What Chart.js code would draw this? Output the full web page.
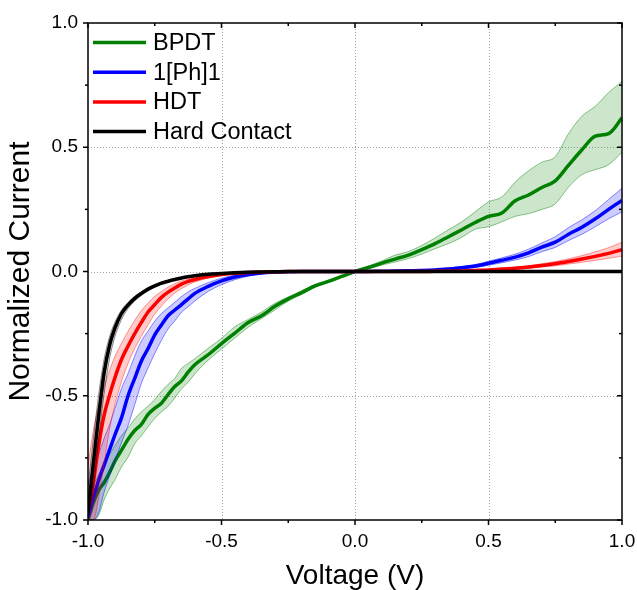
<!DOCTYPE html>
<html>
<head>
<meta charset="utf-8">
<script src="https://cdn.jsdelivr.net/npm/chart.js@4.4.1/dist/chart.umd.min.js"></script>
<style>
  html, body { margin: 0; padding: 0; background: #fff; }
  #wrap { width: 637px; height: 590px; }
</style>
</head>
<body>
<div id="wrap"><canvas id="myChart" width="637" height="590"></canvas></div>
<script>
// tensions (V)
var volts = [-1.00, -0.98, -0.96, -0.94, -0.92, -0.90, -0.875, -0.85, -0.825, -0.80, -0.775, -0.75, -0.725, -0.70, -0.675, -0.65, -0.625, -0.60,
    -0.55, -0.50, -0.45, -0.40, -0.35, -0.30, -0.25, -0.20, -0.15, -0.10, -0.05, 0.00, 0.05, 0.10, 0.15, 0.20, 0.25, 0.30,
    0.35, 0.40, 0.45, 0.50, 0.55, 0.60, 0.65, 0.70, 0.75, 0.80, 0.85, 0.90, 0.95, 1.00];

var seriesNames = ['BPDT', '1[Ph]1', 'HDT', 'Hard Contact'];

// BPDT
var bpdtMean = [-1.00, -0.93, -0.88, -0.85, -0.81, -0.765, -0.72, -0.675, -0.64, -0.615, -0.575, -0.550, -0.530, -0.495, -0.463, -0.440, -0.405, -0.375,
    -0.335, -0.290, -0.248, -0.205, -0.178, -0.140, -0.110, -0.085, -0.058, -0.040, -0.020, 0.000, 0.016, 0.034, 0.050, 0.066, 0.088, 0.112,
    0.140, 0.168, 0.197, 0.222, 0.235, 0.285, 0.308, 0.338, 0.365, 0.428, 0.490, 0.545, 0.555, 0.618];
var bpdtHigh = [-0.89, -0.857, -0.82, -0.774, -0.738, -0.702, -0.661, -0.630, -0.593, -0.565, -0.542, -0.515, -0.482, -0.454, -0.430, -0.390, -0.370, -0.351,
    -0.309, -0.269, -0.222, -0.193, -0.163, -0.128, -0.102, -0.078, -0.054, -0.036, -0.017, 0.003, 0.022, 0.042, 0.066, 0.080, 0.105, 0.135,
    0.168, 0.200, 0.240, 0.280, 0.300, 0.360, 0.405, 0.440, 0.462, 0.555, 0.625, 0.665, 0.720, 0.765];
var bpdtLow = [-1.00, -1.00, -0.98, -0.92, -0.875, -0.84, -0.787, -0.747, -0.693, -0.661, -0.625, -0.591, -0.565, -0.542, -0.509, -0.472, -0.446, -0.412,
    -0.357, -0.312, -0.268, -0.224, -0.189, -0.155, -0.119, -0.092, -0.064, -0.044, -0.023, -0.003, 0.010, 0.026, 0.038, 0.052, 0.070, 0.092,
    0.112, 0.138, 0.170, 0.180, 0.200, 0.222, 0.233, 0.250, 0.272, 0.340, 0.390, 0.410, 0.430, 0.480];

// 1[Ph]1
var phMean = [-0.99, -0.91, -0.84, -0.78, -0.72, -0.66, -0.59, -0.50, -0.43, -0.36, -0.31, -0.255, -0.215, -0.178, -0.155, -0.133, -0.110, -0.088,
    -0.060, -0.038, -0.022, -0.012, -0.006, -0.003, -0.001, 0, 0, 0, 0, 0, 0, 0.001, 0.002, 0.003, 0.004, 0.006,
    0.010, 0.015, 0.022, 0.033, 0.045, 0.058, 0.075, 0.098, 0.118, 0.150, 0.178, 0.212, 0.250, 0.286];
var phHigh = [-0.855, -0.795, -0.735, -0.672, -0.618, -0.554, -0.472, -0.410, -0.340, -0.280, -0.239, -0.200, -0.169, -0.146, -0.124, -0.101, -0.082, -0.068,
    -0.045, -0.027, -0.015, -0.008, -0.004, -0.002, 0, 0, 0, 0, 0, 0, 0, 0.002, 0.003, 0.005, 0.006, 0.009,
    0.014, 0.020, 0.028, 0.041, 0.055, 0.070, 0.090, 0.115, 0.140, 0.177, 0.208, 0.245, 0.290, 0.335];
var phLow = [-1.00, -1.00, -0.97, -0.89, -0.825, -0.765, -0.69, -0.62, -0.536, -0.450, -0.388, -0.33, -0.277, -0.231, -0.199, -0.164, -0.142, -0.119,
    -0.080, -0.053, -0.033, -0.019, -0.010, -0.005, -0.002, 0, 0, 0, 0, 0, 0, 0, 0.001, 0.001, 0.002, 0.003,
    0.006, 0.010, 0.016, 0.025, 0.035, 0.046, 0.060, 0.080, 0.097, 0.125, 0.150, 0.180, 0.212, 0.240];

// HDT
var hdtMean = [-0.97, -0.85, -0.70, -0.58, -0.50, -0.43, -0.355, -0.30, -0.25, -0.205, -0.163, -0.133, -0.104, -0.083, -0.066, -0.051, -0.040, -0.032,
    -0.020, -0.012, -0.007, -0.004, -0.002, -0.001, 0, 0, 0, 0, 0, 0, 0, 0, 0, 0, 0, 0.001,
    0.001, 0.002, 0.004, 0.006, 0.010, 0.013, 0.018, 0.024, 0.031, 0.040, 0.050, 0.061, 0.073, 0.088];
var hdtHigh = [-0.78, -0.64, -0.54, -0.465, -0.40, -0.344, -0.29, -0.241, -0.197, -0.157, -0.127, -0.100, -0.080, -0.063, -0.049, -0.038, -0.031, -0.025,
    -0.015, -0.009, -0.005, -0.003, -0.001, 0, 0, 0, 0, 0, 0, 0, 0, 0, 0, 0, 0, 0.001,
    0.002, 0.003, 0.005, 0.008, 0.013, 0.017, 0.023, 0.031, 0.040, 0.051, 0.064, 0.079, 0.096, 0.118];
var hdtLow = [-1.00, -1.00, -0.91, -0.775, -0.64, -0.54, -0.445, -0.37, -0.31, -0.26, -0.214, -0.171, -0.139, -0.110, -0.087, -0.069, -0.054, -0.042,
    -0.027, -0.017, -0.010, -0.006, -0.003, -0.002, 0, 0, 0, 0, 0, 0, 0, 0, 0, 0, 0, 0,
    0.001, 0.001, 0.003, 0.004, 0.007, 0.009, 0.013, 0.018, 0.023, 0.030, 0.037, 0.045, 0.053, 0.062];

// Hard Contact
var hardMean = [-0.97, -0.77, -0.58, -0.41, -0.30, -0.23, -0.17, -0.135, -0.108, -0.088, -0.071, -0.058, -0.047, -0.039, -0.032, -0.026, -0.021, -0.017,
    -0.011, -0.008, -0.005, -0.003, -0.002, -0.001, 0, 0, 0, 0, 0, 0, 0, 0, 0, 0, 0, 0,
    0, 0, 0, 0, 0, 0, 0, 0, 0, 0, 0, 0, 0, 0];
var hardHigh = [-0.87, -0.675, -0.495, -0.355, -0.265, -0.206, -0.156, -0.124, -0.100, -0.081, -0.066, -0.054, -0.044, -0.036, -0.030, -0.024, -0.019, -0.016,
    -0.010, -0.007, -0.004, -0.002, -0.001, 0, 0, 0, 0, 0, 0, 0, 0, 0, 0, 0, 0, 0,
    0, 0, 0, 0, 0, 0, 0, 0, 0, 0, 0, 0, 0, 0];
var hardLow = [-1.00, -0.87, -0.675, -0.495, -0.355, -0.265, -0.194, -0.149, -0.119, -0.096, -0.078, -0.063, -0.051, -0.042, -0.034, -0.028, -0.023, -0.019,
    -0.012, -0.009, -0.006, -0.004, -0.002, -0.001, 0, 0, 0, 0, 0, 0, 0, 0, 0, 0, 0, 0,
    0, 0, 0, 0, 0, 0, 0, 0, 0, 0, 0, 0, 0, 0];

var xTicks = [-1.0, -0.5, 0.0, 0.5, 1.0];
var yTicks = [-1.0, -0.5, 0.0, 0.5, 1.0];
var minorTicks = [-0.75, -0.25, 0.25, 0.75];

var couleurs = ['#008000', '#0000ff', '#ff0000', '#000000'];
var bords = ['rgba(0,128,0,0.45)', 'rgba(0,0,255,0.45)', 'rgba(255,0,0,0.4)', 'rgba(0,0,0,0.45)'];
var fonds = ['rgba(0,128,0,0.2)', 'rgba(0,0,255,0.2)', 'rgba(255,0,0,0.2)', 'rgba(0,0,0,0.12)'];

var groupes = [
    [bpdtMean, bpdtHigh, bpdtLow],
    [phMean, phHigh, phLow],
    [hdtMean, hdtHigh, hdtLow],
    [hardMean, hardHigh, hardLow]
];

function pts(arr) {
    return volts.map(function (v, i) { return { x: v, y: arr[i] }; });
}

var datasets = [];
groupes.forEach(function (g, k) {
    var base = (4 - k) * 10; // le vert dessous, le noir dessus
    datasets.push({ label: seriesNames[k] + ' haut', data: pts(g[1]), borderColor: bords[k], borderWidth: 1,
        backgroundColor: fonds[k], fill: '+1', pointRadius: 0, order: base + 2 });
    datasets.push({ label: seriesNames[k] + ' bas', data: pts(g[2]), borderColor: bords[k], borderWidth: 1,
        fill: false, pointRadius: 0, order: base + 1 });
    datasets.push({ label: seriesNames[k], data: pts(g[0]), borderColor: couleurs[k], borderWidth: 3.5,
        fill: false, pointRadius: 0, order: base });
});

// grille pointillee sous les courbes
var grillePlugin = {
    id: 'grille',
    beforeDatasetsDraw: function (chart) {
        var ctx = chart.ctx, a = chart.chartArea;
        var sx = chart.scales.x, sy = chart.scales.y;
        ctx.save();
        ctx.strokeStyle = '#a0a0a0';
        ctx.lineWidth = 1;
        ctx.setLineDash([1, 2]);
        xTicks.slice(1, -1).forEach(function (v) {
            var px = Math.round(sx.getPixelForValue(v)) + 0.5;
            ctx.beginPath(); ctx.moveTo(px, a.top); ctx.lineTo(px, a.bottom); ctx.stroke();
        });
        yTicks.slice(1, -1).forEach(function (v) {
            var py = Math.round(sy.getPixelForValue(v)) + 0.5;
            ctx.beginPath(); ctx.moveTo(a.left, py); ctx.lineTo(a.right, py); ctx.stroke();
        });
        ctx.restore();
    }
};

// cadre, graduations et legende
var cadrePlugin = {
    id: 'cadre',
    afterDatasetsDraw: function (chart) {
        var ctx = chart.ctx, a = chart.chartArea;
        var sx = chart.scales.x, sy = chart.scales.y;
        ctx.save();
        ctx.strokeStyle = '#000';
        ctx.lineWidth = 1.5;
        ctx.strokeRect(a.left, a.top, a.right - a.left, a.bottom - a.top);

        function tickX(v, len) {
            var px = sx.getPixelForValue(v);
            ctx.beginPath(); ctx.moveTo(px, a.bottom); ctx.lineTo(px, a.bottom + len); ctx.stroke();
            ctx.beginPath(); ctx.moveTo(px, a.top); ctx.lineTo(px, a.top + len); ctx.stroke();
        }
        function tickY(v, len) {
            var py = sy.getPixelForValue(v);
            ctx.beginPath(); ctx.moveTo(a.left, py); ctx.lineTo(a.left - len, py); ctx.stroke();
            ctx.beginPath(); ctx.moveTo(a.right, py); ctx.lineTo(a.right - len, py); ctx.stroke();
        }
        xTicks.forEach(function (v) { tickX(v, 5); });
        minorTicks.forEach(function (v) { tickX(v, 3); });
        yTicks.forEach(function (v) { tickY(v, 5); });
        minorTicks.forEach(function (v) { tickY(v, 3); });

        // legende
        ctx.font = '23.5px "Liberation Sans", Arial, sans-serif';
        ctx.textBaseline = 'middle';
        ctx.fillStyle = '#000';
        seriesNames.forEach(function (nom, k) {
            var y = a.top + 19.5 + k * 29.7;
            ctx.strokeStyle = couleurs[k];
            ctx.lineWidth = 3.5;
            ctx.beginPath(); ctx.moveTo(a.left + 5, y); ctx.lineTo(a.left + 58, y); ctx.stroke();
            ctx.fillText(nom, a.left + 65, y + 1);
        });
        ctx.restore();
    }
};

Chart.defaults.font.family = '"Liberation Sans", Arial, sans-serif';
Chart.defaults.color = '#000';

var ctx = document.getElementById('myChart').getContext('2d');
var myChart = new Chart(ctx, {
    type: 'line',
    data: { datasets: datasets },
    options: {
        responsive: false,
        animation: false,
        events: [],
        layout: { padding: { top: 23, right: 15, left: 0, bottom: 0 } },
        elements: { line: { cubicInterpolationMode: 'monotone' } },
        scales: {
            x: {
                type: 'linear',
                min: -1, max: 1,
                afterBuildTicks: function (scale) {
                    scale.ticks = xTicks.map(function (v) { return { value: v }; });
                },
                afterFit: function (scale) {
                    scale.height = 70;
                    scale.paddingLeft = 0;
                    scale.paddingRight = 0;
                },
                grid: { display: false, drawTicks: false },
                border: { display: false },
                ticks: {
                    font: { size: 19 },
                    padding: 10,
                    maxRotation: 0,
                    callback: function (v) { return Number(v).toFixed(1); }
                },
                title: {
                    display: true,
                    text: 'Voltage (V)',
                    font: { size: 28, lineHeight: 1 },
                    padding: { top: 0, bottom: 0 }
                }
            },
            y: {
                type: 'linear',
                min: -1, max: 1,
                afterBuildTicks: function (scale) {
                    scale.ticks = yTicks.map(function (v) { return { value: v }; });
                },
                afterFit: function (scale) {
                    scale.width = 88;
                    scale.paddingTop = 0;
                    scale.paddingBottom = 0;
                },
                grid: { display: false, drawTicks: false },
                border: { display: false },
                ticks: {
                    font: { size: 19 },
                    padding: 10,
                    callback: function (v) { return Number(v).toFixed(1); }
                },
                title: {
                    display: true,
                    text: 'Normalized Current',
                    font: { size: 30, lineHeight: 1 },
                    padding: { top: 6, bottom: 0 }
                }
            }
        },
        plugins: {
            legend: { display: false },
            tooltip: { enabled: false },
            filler: { propagate: false }
        }
    },
    plugins: [grillePlugin, cadrePlugin]
});
</script>
</body>
</html>
